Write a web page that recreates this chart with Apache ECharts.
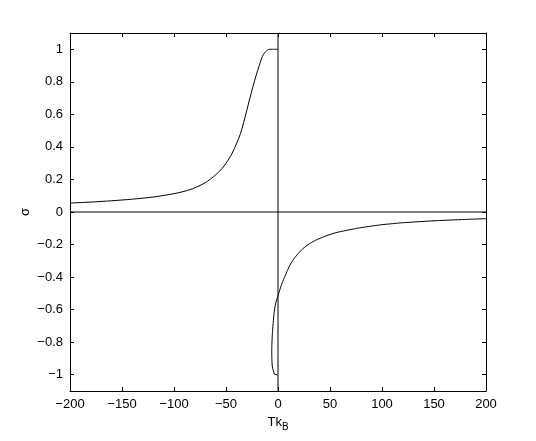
<!DOCTYPE html>
<html>
<head>
<meta charset="utf-8">
<script src="https://cdn.jsdelivr.net/npm/echarts@6/dist/echarts.min.js"></script>
<style>
html,body{margin:0;padding:0;background:#fff;}
#c{width:536px;height:441px;}
</style>
</head>
<body>
<div id="c"></div>
<script>
// Left branch (T < 0)
var leftX = [-200, -180, -160, -140, -120, -104, -96, -88, -82, -75, -70, -65, -60, -56, -52, -48, -44, -40, -36, -33, -30, -27, -24, -21, -18, -16, -14, -12, -10, -8, -6, 0];
var leftY = [0.055, 0.061, 0.069, 0.079, 0.092, 0.108, 0.118, 0.131, 0.143, 0.163, 0.18, 0.202, 0.228, 0.252, 0.282, 0.318, 0.362, 0.418, 0.483, 0.55, 0.625, 0.70, 0.772, 0.84, 0.90, 0.94, 0.968, 0.985, 0.995, 1.0, 1.0, 1.0];
// Right branch (starts at the bottom hook near x = 0)
var rightX = [-0.5, -3.4, -5.4, -5.9, -6, -5.4, -3.8, -2.2, -1, 0, 1.9, 4, 6.7, 9, 11.5, 15, 19.6, 24, 29, 36, 45, 55, 65, 80, 100, 120, 150, 175, 200];
var rightY = [-1.0, -0.996, -0.951, -0.9, -0.848, -0.746, -0.623, -0.56, -0.535, -0.515, -0.475, -0.435, -0.395, -0.36, -0.326, -0.29, -0.254, -0.225, -0.2, -0.174, -0.15, -0.128, -0.114, -0.096, -0.078, -0.066, -0.054, -0.047, -0.041];
// Reference lines
var zeroHX = [-200, 200];
var zeroHY = [0, 0];
var zeroVX = [0, 0];
var zeroVY = [-1.1, 1.1];

var xMin = -200, xMax = 200, xStep = 50;
var yMin = -1.1, yMax = 1.1, yStep = 0.2;
var xName = 'Tk';
var xSub = 'B';
var yName = 'σ';

function pairs(xs, ys) { return xs.map(function (x, i) { return [x, ys[i]]; }); }
function fmt(v) { return String(v).replace('-', '\u2212'); }

var FONT = '"Liberation Sans", Arial, Helvetica, sans-serif';
var lineStyleAxis = { color: '#000', width: 1 };

var chart = echarts.init(document.getElementById('c'), null, { renderer: 'canvas' });
chart.setOption({
  backgroundColor: '#fff',
  animation: false,
  grid: { left: 70, right: 50, top: 33, bottom: 50, containLabel: false },
  graphic: [{
    type: 'text', x: 25, y: 212, rotation: Math.PI / 2, silent: true,
    style: { text: yName, font: '13px ' + FONT, fill: '#000', align: 'center', verticalAlign: 'middle' }
  }],
  xAxis: [{
    type: 'value', min: xMin, max: xMax, interval: xStep, position: 'bottom',
    name: '{a|' + xName + '}{b|' + xSub + '}', nameLocation: 'middle', nameGap: 22,
    nameTextStyle: {
      rich: {
        a: { fontFamily: FONT, fontSize: 13, color: '#000' },
        b: { fontFamily: FONT, fontSize: 10, color: '#000', padding: [9, 0, 0, 0] }
      }
    },
    axisLine: { show: true, onZero: false, lineStyle: lineStyleAxis },
    axisTick: { show: true, inside: true, length: 4, lineStyle: lineStyleAxis },
    axisLabel: { fontFamily: FONT, fontSize: 13, color: '#000', margin: 7, formatter: fmt },
    splitLine: { show: false }
  }, {
    type: 'value', min: xMin, max: xMax, interval: xStep, position: 'top',
    axisLine: { show: true, onZero: false, lineStyle: lineStyleAxis },
    axisTick: { show: true, inside: true, length: 4, lineStyle: lineStyleAxis },
    axisLabel: { show: false },
    splitLine: { show: false }
  }],
  yAxis: [{
    type: 'value', min: yMin, max: yMax, minInterval: yStep, maxInterval: yStep, splitNumber: 11,
    position: 'left',
    axisLine: { show: true, onZero: false, lineStyle: lineStyleAxis },
    axisTick: { show: true, inside: true, length: 4, lineStyle: lineStyleAxis },
    axisLabel: { fontFamily: FONT, fontSize: 13, color: '#000', margin: 7, formatter: fmt, showMinLabel: false, showMaxLabel: false },
    splitLine: { show: false }
  }, {
    type: 'value', min: yMin, max: yMax, minInterval: yStep, maxInterval: yStep, splitNumber: 11,
    position: 'right',
    axisLine: { show: true, onZero: false, lineStyle: lineStyleAxis },
    axisTick: { show: true, inside: true, length: 4, lineStyle: lineStyleAxis },
    axisLabel: { show: false },
    splitLine: { show: false }
  }],
  series: [
    { type: 'line', data: pairs(zeroHX, zeroHY), showSymbol: false, symbol: 'none', lineStyle: { color: '#000', width: 1 }, silent: true },
    { type: 'line', data: pairs(zeroVX, zeroVY), showSymbol: false, symbol: 'none', lineStyle: { color: '#000', width: 1 }, silent: true },
    { type: 'line', data: pairs(leftX, leftY), showSymbol: false, symbol: 'none', smooth: 0.3, lineStyle: { color: '#000', width: 1 } },
    { type: 'line', data: pairs(rightX, rightY), showSymbol: false, symbol: 'none', smooth: 0.2, lineStyle: { color: '#000', width: 1 } }
  ]
});
</script>
</body>
</html>
